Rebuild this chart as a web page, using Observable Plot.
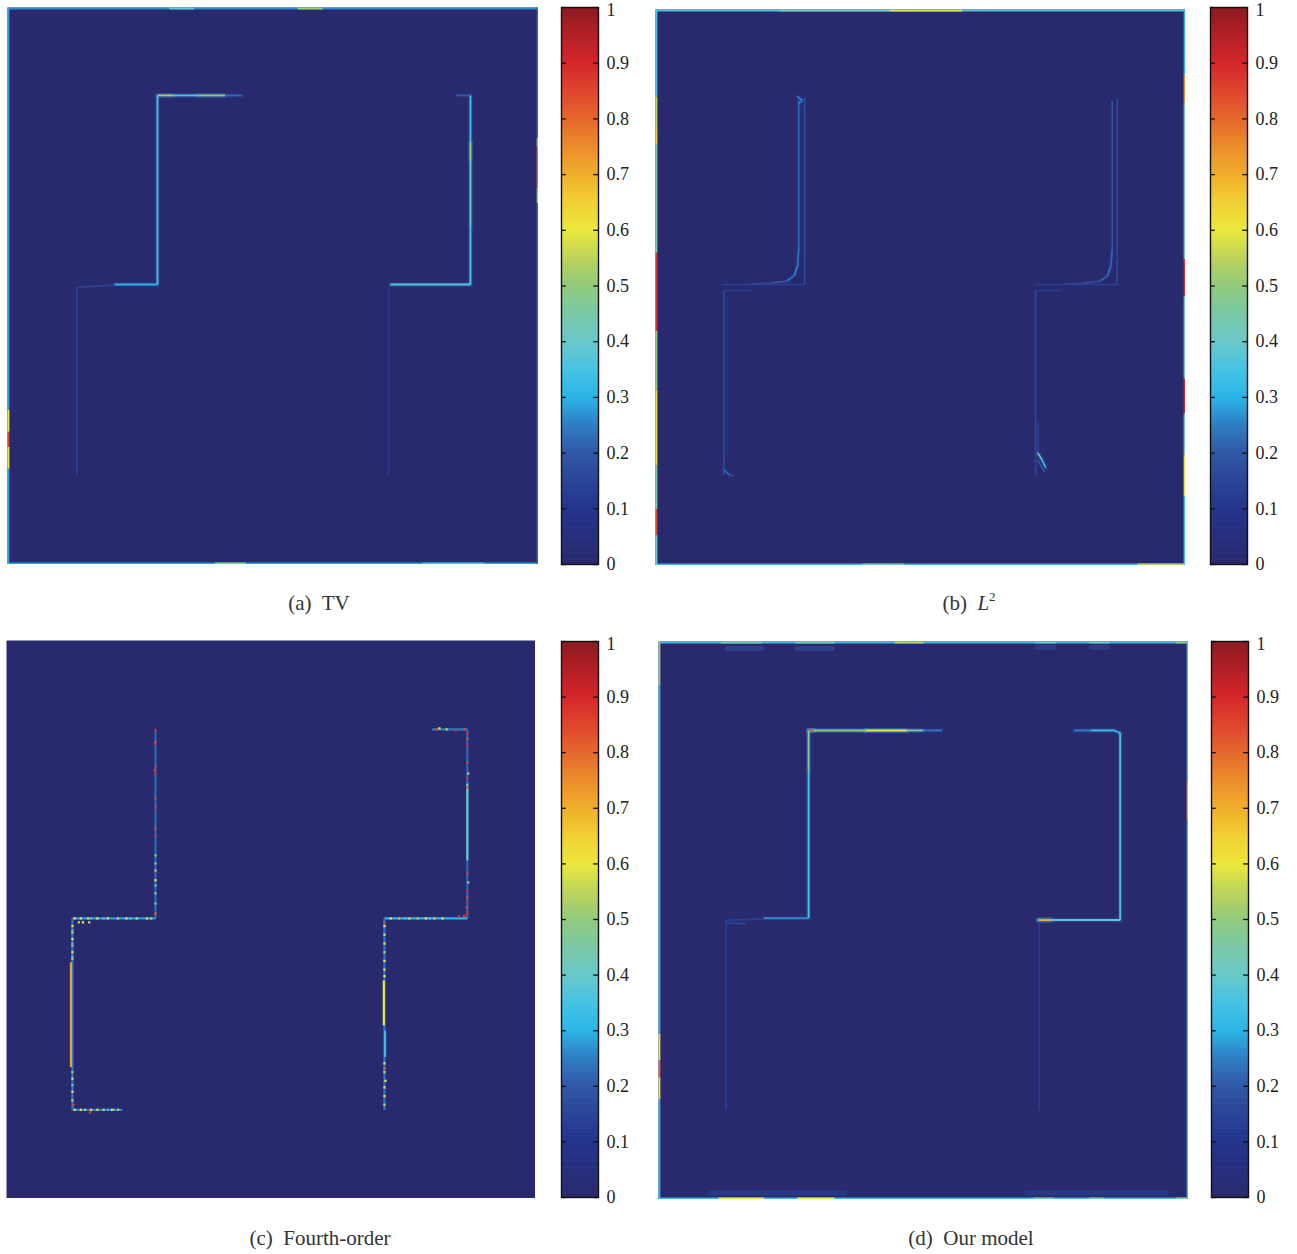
<!DOCTYPE html>
<html><head><meta charset="utf-8">
<script src="https://cdn.jsdelivr.net/npm/d3@7"></script>
<script src="https://cdn.jsdelivr.net/npm/@observablehq/plot@0.6"></script>
<style>
body{margin:0;background:#fff;width:1297px;height:1254px;position:relative;overflow:hidden;font-family:"Liberation Serif",serif;}
.abs{position:absolute;}
.cap{position:absolute;font-size:21px;line-height:22px;color:#333;transform:translateX(-50%);white-space:pre;}
.cap sup{font-size:13px;vertical-align:9px;line-height:0;}
</style></head><body>
<script>
// ---- colormap (jet-like, as in the colour bars) ----
const cmap = ["#292a6e","#272e7e","#23348c","#2a4598","#3158a6","#2f7ec4","#2bb5e7","#46c3e3","#6ac8ca","#7ac8a6","#92ca7c","#bdd45a","#ece83c","#f1cf33","#f0ae2b","#ec8c2c","#e5672c","#df452d","#d5262b","#b11f26","#8b1a1f"];
const barTicks = [0,0.1,0.2,0.3,0.4,0.5,0.6,0.7,0.8,0.9,1];
const captions = ["(a)  TV","(b)  <i>L</i><sup>2</sup>","(c)  Fourth-order","(d)  Our model"];

// ---- (a) TV : edge-error segments in image grid units (0..256), value 0..1 ----
const tvLines = [
 {x1:72.3,y1:40.4,x2:80,y2:40.4,v:0.52},{x1:80,y1:40.4,x2:92,y2:40.4,v:0.36},
 {x1:92,y1:40.4,x2:105,y2:40.4,v:0.5},{x1:105,y1:40.4,x2:113,y2:40.4,v:0.22},
 {x1:72.3,y1:40.4,x2:72.3,y2:127.3,v:0.34},
 {x1:51.6,y1:127.3,x2:72.3,y2:127.3,v:0.3},{x1:34,y1:128.5,x2:51.6,y2:127.6,v:0.14},
 {x1:216,y1:40.4,x2:223.2,y2:40.4,v:0.2},
 {x1:223.2,y1:40.4,x2:223.2,y2:62,v:0.34},{x1:223.2,y1:62,x2:223.2,y2:70,v:0.52},
 {x1:223.2,y1:70,x2:223.2,y2:100,v:0.42},{x1:223.2,y1:100,x2:223.2,y2:127.3,v:0.36},
 {x1:184.6,y1:127.3,x2:223.2,y2:127.3,v:0.38},
 {x1:33.4,y1:128.5,x2:33.4,y2:214.6,v:0.14},{x1:183.8,y1:128.5,x2:183.8,y2:214.6,v:0.12}
];
const tvEdges = [
 {x1:0,y1:0.5,x2:256,y2:0.5,v:0.26},{x1:78,y1:0.5,x2:90,y2:0.5,v:0.4},{x1:140,y1:0.5,x2:152,y2:0.5,v:0.52},
 {x1:0,y1:255.5,x2:256,y2:255.5,v:0.28},{x1:100,y1:255.5,x2:115,y2:255.5,v:0.48},{x1:200,y1:255.5,x2:230,y2:255.5,v:0.34},
 {x1:0.5,y1:0,x2:0.5,y2:185,v:0.28},{x1:0.5,y1:185,x2:0.5,y2:195,v:0.6},{x1:0.5,y1:195,x2:0.5,y2:202,v:0.85},
 {x1:0.5,y1:202,x2:0.5,y2:212,v:0.6},{x1:0.5,y1:212,x2:0.5,y2:256,v:0.28},
 {x1:255.5,y1:0,x2:255.5,y2:60,v:0.22},{x1:255.5,y1:60,x2:255.5,y2:64,v:0.5},{x1:255.5,y1:64,x2:255.5,y2:83,v:0.8},
 {x1:255.5,y1:83,x2:255.5,y2:90,v:0.5},{x1:255.5,y1:90,x2:255.5,y2:256,v:0.22}
];

// ---- (b) L2 ----
const l2Lines = [
 {x1:72,y1:40.5,x2:72,y2:126.6,v:0.17},
 {x1:69.2,y1:42,x2:69.2,y2:110,v:0.22},{x1:69.2,y1:110,x2:68.6,y2:118,v:0.24},{x1:68.6,y1:118,x2:67,y2:122.5,v:0.26},
 {x1:67,y1:122.5,x2:63.5,y2:125,v:0.24},{x1:63.5,y1:125,x2:56,y2:126,v:0.2},{x1:56,y1:126,x2:46,y2:126.3,v:0.16},
 {x1:32.4,y1:126.6,x2:72,y2:126.6,v:0.14},
 {x1:68.5,y1:40,x2:71,y2:42,v:0.26},{x1:71,y1:42,x2:69,y2:43.5,v:0.24},
 {x1:223,y1:41,x2:223,y2:127,v:0.16},
 {x1:220.6,y1:42,x2:220.6,y2:110,v:0.2},{x1:220.6,y1:110,x2:220,y2:118,v:0.22},{x1:220,y1:118,x2:218.4,y2:122.5,v:0.24},
 {x1:218.4,y1:122.5,x2:215,y2:125,v:0.22},{x1:215,y1:125,x2:207,y2:126,v:0.18},{x1:207,y1:126,x2:198,y2:126.3,v:0.15},
 {x1:184,y1:126.6,x2:223,y2:126.6,v:0.14},
 {x1:33,y1:129.4,x2:33,y2:214.5,v:0.17},{x1:34.6,y1:132,x2:34.6,y2:205,v:0.09},
 {x1:33,y1:129.4,x2:47,y2:129.4,v:0.13},{x1:33,y1:212,x2:36,y2:214.5,v:0.22},{x1:36,y1:214.5,x2:38,y2:214.8,v:0.16},
 {x1:183.6,y1:129.4,x2:183.6,y2:214.5,v:0.16},{x1:183.6,y1:129.4,x2:196,y2:129.4,v:0.12},
 {x1:184.8,y1:190,x2:184.8,y2:204,v:0.15},
 {x1:184.5,y1:204,x2:186.5,y2:207,v:0.42},{x1:186.5,y1:207,x2:188.5,y2:211,v:0.34},{x1:184.5,y1:207.5,x2:188,y2:213,v:0.2}
];
const l2Edges = [
 {x1:0,y1:0.5,x2:256,y2:0.5,v:0.36},{x1:60,y1:0.5,x2:113,y2:0.5,v:0.42},{x1:113,y1:0.5,x2:148,y2:0.5,v:0.58},
 {x1:0,y1:255.5,x2:256,y2:255.5,v:0.32},{x1:100,y1:255.5,x2:120,y2:255.5,v:0.45},{x1:233,y1:255.5,x2:256,y2:255.5,v:0.55},
 {x1:0.5,y1:0,x2:0.5,y2:40,v:0.35},{x1:0.5,y1:40,x2:0.5,y2:55,v:0.55},{x1:0.5,y1:55,x2:0.5,y2:62,v:0.65},
 {x1:0.5,y1:62,x2:0.5,y2:112,v:0.45},{x1:0.5,y1:112,x2:0.5,y2:148,v:0.88},{x1:0.5,y1:148,x2:0.5,y2:175,v:0.5},
 {x1:0.5,y1:175,x2:0.5,y2:210,v:0.62},{x1:0.5,y1:210,x2:0.5,y2:230,v:0.45},{x1:0.5,y1:230,x2:0.5,y2:242,v:0.85},
 {x1:0.5,y1:242,x2:0.5,y2:256,v:0.4},
 {x1:255.5,y1:0,x2:255.5,y2:30,v:0.3},{x1:255.5,y1:30,x2:255.5,y2:43,v:0.75},{x1:255.5,y1:43,x2:255.5,y2:115,v:0.45},
 {x1:255.5,y1:115,x2:255.5,y2:132,v:0.88},{x1:255.5,y1:132,x2:255.5,y2:170,v:0.45},{x1:255.5,y1:170,x2:255.5,y2:186,v:0.9},
 {x1:255.5,y1:186,x2:255.5,y2:205,v:0.45},{x1:255.5,y1:205,x2:255.5,y2:224,v:0.62},{x1:255.5,y1:224,x2:255.5,y2:256,v:0.35}
];

// ---- (c) Fourth-order ----
const fourthLines = [
 {x1:72.1,y1:40.8,x2:72.1,y2:127.5,v:0.22},{x1:31.9,y1:127.5,x2:72.1,y2:127.5,v:0.28},
 {x1:31.9,y1:127.5,x2:31.9,y2:215.3,v:0.24},{x1:31.9,y1:215.3,x2:56.1,y2:215.3,v:0.25},
 {x1:206,y1:40.8,x2:223,y2:40.8,v:0.25},{x1:223,y1:40.8,x2:223,y2:127.5,v:0.22},
 {x1:223,y1:65.6,x2:223,y2:100.9,v:0.42},{x1:182.9,y1:127.5,x2:223,y2:127.5,v:0.3},
 {x1:182.9,y1:127.5,x2:182.9,y2:215.3,v:0.24},{x1:31.2,y1:147.6,x2:31.2,y2:195.7,v:0.72},
 {x1:182.6,y1:156,x2:182.6,y2:176.6,v:0.6},{x1:183.2,y1:179,x2:183.2,y2:191,v:0.33}
];
const fourthDots = [
 {x:72.1,y:41.3,v:0.88},{x:72.1,y:46.6,v:0.85},{x:71.6,y:47.4,v:0.9},{x:72.1,y:58.2,v:0.88},{x:71.7,y:59.6,v:0.85},
 {x:72.1,y:61,v:0.9},{x:72.1,y:72.5,v:0.86},{x:72.1,y:76.6,v:0.88},{x:72.1,y:86.3,v:0.85},{x:72.1,y:89.4,v:0.88},
 {x:72.1,y:98.6,v:0.5},{x:72.1,y:102.3,v:0.45},{x:72.1,y:105.5,v:0.55},{x:72.1,y:110,v:0.6},{x:72.1,y:112.4,v:0.4},
 {x:72.1,y:116,v:0.5},{x:72.1,y:120.7,v:0.45},{x:72.1,y:125.3,v:0.8},
 {x:223,y:42.7,v:0.88},{x:223,y:45,v:0.85},{x:223,y:48.2,v:0.9},{x:223,y:56,v:0.86},{x:223.5,y:61,v:0.55},
 {x:223,y:63.3,v:0.88},{x:223,y:67.4,v:0.85},{x:223,y:106.9,v:0.86},{x:223.5,y:111,v:0.5},{x:223,y:114.7,v:0.88},
 {x:223,y:117.9,v:0.85},{x:223,y:120.2,v:0.9},{x:222.6,y:122.5,v:0.86},{x:223,y:124.8,v:0.88},
 {x:208,y:40.8,v:0.86},{x:209.5,y:40.3,v:0.6},{x:213,y:40.8,v:0.55},{x:217.4,y:41.3,v:0.88},{x:221.7,y:40.8,v:0.85},
 {x:33,y:127.5,v:0.6},{x:36,y:127.5,v:0.62},{x:39.5,y:127.5,v:0.58},{x:41,y:127.5,v:0.35},{x:44,y:127.5,v:0.6},
 {x:47,y:127.5,v:0.35},{x:49,y:127.5,v:0.62},{x:54,y:127.5,v:0.55},{x:58,y:127.5,v:0.6},{x:60,y:127.5,v:0.35},
 {x:63,y:127.5,v:0.58},{x:68,y:127.5,v:0.62},{x:70,y:127.5,v:0.55},
 {x:35,y:129.3,v:0.62},{x:37,y:129.3,v:0.6},{x:40,y:129.3,v:0.58},
 {x:31.9,y:131,v:0.6},{x:31.9,y:133,v:0.33},{x:31.9,y:134,v:0.55},{x:31.9,y:137,v:0.6},{x:31.9,y:139,v:0.33},
 {x:31.9,y:140,v:0.5},{x:31.9,y:143,v:0.6},{x:31.9,y:145,v:0.33},{x:31.9,y:146,v:0.55},
 {x:31.9,y:198,v:0.5},{x:31.9,y:201,v:0.6},{x:31.9,y:204,v:0.45},{x:31.9,y:207,v:0.6},{x:31.9,y:211,v:0.55},{x:32.4,y:213,v:0.85},
 {x:33,y:215.3,v:0.6},{x:36,y:215.3,v:0.62},{x:38,y:215.3,v:0.55},{x:40.5,y:216.5,v:0.85},{x:41,y:215.3,v:0.6},
 {x:44,y:215.3,v:0.6},{x:47,y:215.3,v:0.55},{x:49,y:215.3,v:0.33},{x:51,y:215.3,v:0.6},{x:52,y:215.3,v:0.33},{x:54,y:215.3,v:0.55},
 {x:186,y:127.5,v:0.62},{x:190,y:127.5,v:0.7},{x:193,y:127.5,v:0.35},{x:195,y:127.5,v:0.65},{x:199,y:127.5,v:0.7},
 {x:203,y:127.5,v:0.6},{x:205,y:127.5,v:0.35},{x:207,y:127.5,v:0.68},{x:211,y:127.5,v:0.62},
 {x:219,y:126.5,v:0.88},{x:221.5,y:126.5,v:0.85},{x:222.5,y:125.8,v:0.9},
 {x:182.9,y:129.5,v:0.85},{x:182.9,y:131,v:0.6},{x:182.9,y:135,v:0.58},{x:182.9,y:139,v:0.62},{x:182.9,y:143,v:0.55},
 {x:182.9,y:147,v:0.6},{x:182.9,y:151,v:0.58},{x:182.9,y:154,v:0.6},{x:182.9,y:194,v:0.6},{x:182.9,y:196.5,v:0.8},
 {x:182.9,y:198,v:0.55},{x:183.4,y:202,v:0.6},{x:182.9,y:205,v:0.58},{x:182.9,y:209,v:0.62},{x:182.9,y:213,v:0.55}
];

// ---- (d) Our model ----
const oursLines = [
 {x1:72.5,y1:40.8,x2:75,y2:40.8,v:0.8},{x1:75,y1:40.8,x2:100,y2:40.8,v:0.5},{x1:100,y1:40.8,x2:120,y2:40.8,v:0.6},
 {x1:120,y1:40.8,x2:128,y2:40.8,v:0.45},{x1:128,y1:40.8,x2:137,y2:40.8,v:0.24},
 {x1:72.5,y1:40.8,x2:72.5,y2:60,v:0.48},{x1:72.5,y1:60,x2:72.5,y2:127,v:0.36},
 {x1:50.7,y1:127,x2:72.5,y2:127,v:0.26},{x1:31.7,y1:128,x2:50.7,y2:127.2,v:0.13},
 {x1:200.7,y1:40.8,x2:209,y2:40.8,v:0.25},{x1:209,y1:40.8,x2:220,y2:40.8,v:0.34},{x1:220,y1:40.8,x2:223,y2:42,v:0.3},
 {x1:223,y1:42,x2:223,y2:127.8,v:0.36},
 {x1:183.5,y1:127.8,x2:190,y2:127.8,v:0.7},{x1:190,y1:127.8,x2:223,y2:127.8,v:0.38},
 {x1:32.6,y1:129,x2:32.6,y2:215,v:0.13},{x1:32.6,y1:129,x2:42,y2:129.5,v:0.14},
 {x1:184,y1:129,x2:184,y2:215,v:0.12}
];
const oursEdges = [
 {x1:0,y1:0.5,x2:256,y2:0.5,v:0.32},{x1:30,y1:0.5,x2:50,y2:0.5,v:0.45},{x1:66,y1:0.5,x2:85,y2:0.5,v:0.45},
 {x1:114,y1:0.5,x2:128,y2:0.5,v:0.55},{x1:182,y1:0.5,x2:192,y2:0.5,v:0.4},{x1:208,y1:0.5,x2:218,y2:0.5,v:0.4},
 {x1:250,y1:0.5,x2:256,y2:0.5,v:0.5},
 {x1:0,y1:255.5,x2:256,y2:255.5,v:0.32},{x1:29,y1:255.5,x2:51,y2:255.5,v:0.6},{x1:67,y1:255.5,x2:85,y2:255.5,v:0.6},
 {x1:181,y1:255.5,x2:191,y2:255.5,v:0.45},{x1:208,y1:255.5,x2:215,y2:255.5,v:0.45},{x1:250,y1:255.5,x2:256,y2:255.5,v:0.5},
 {x1:0.5,y1:0,x2:0.5,y2:20,v:0.5},{x1:0.5,y1:20,x2:0.5,y2:180,v:0.3},{x1:0.5,y1:180,x2:0.5,y2:192,v:0.6},
 {x1:0.5,y1:192,x2:0.5,y2:200,v:0.8},{x1:0.5,y1:200,x2:0.5,y2:210,v:0.6},{x1:0.5,y1:210,x2:0.5,y2:256,v:0.3},
 {x1:255.5,y1:0,x2:255.5,y2:64,v:0.33},{x1:255.5,y1:64,x2:255.5,y2:82,v:0.72},{x1:255.5,y1:82,x2:255.5,y2:256,v:0.32}
];
const oursGlows = [
 {x1:33,y1:3.2,x2:50,y2:3.2,v:0.2},{x1:67,y1:3.2,x2:84,y2:3.2,v:0.2},{x1:183,y1:2.8,x2:191,y2:2.8,v:0.18},{x1:209,y1:2.8,x2:217,y2:2.8,v:0.18},
 {x1:25,y1:253,x2:90,y2:253,v:0.16},{x1:178,y1:253,x2:245,y2:253,v:0.16}
];

// ---- drawing ----
const colorScale = {type:"linear", domain:[0,1], interpolate: d3.piecewise(d3.interpolateRgb, cmap), clamp:true};

function heat({lines=[], edges=[], dots=[], glows=[], halo=true, core=1.9}, w, h) {
  const xy = {x1:"x1", y1:"y1", x2:"x2", y2:"y2"};
  return Plot.plot({
    width:w, height:h, margin:0,
    x:{domain:[0,256], axis:null}, y:{domain:[0,256], axis:null, reverse:true},
    color: colorScale,
    marks:[
      Plot.frame({fill:cmap[0], stroke:"none"}),
      Plot.link(glows, {...xy, stroke:"v", strokeWidth:5, strokeOpacity:0.45, strokeLinecap:"round"}),
      halo ? Plot.link(lines.filter(d=>d.v>0.2), {...xy, stroke:d=>d.v*0.45, strokeWidth:5, strokeOpacity:0.5, strokeLinecap:"round"}) : null,
      Plot.link(lines, {...xy, stroke:"v", strokeWidth:core}),
      Plot.link(edges, {...xy, stroke:"v", strokeWidth:1.7}),
      Plot.dot(dots, {x:"x", y:"y", fill:"v", symbol:"square", r:1.25, stroke:"none"})
    ]
  });
}

function colorbar(h) {
  const step = 0.0025;
  const steps = d3.range(0, 1, step);
  const fmt = d => (d===0||d===1) ? String(d) : d.toFixed(1);
  return Plot.plot({
    width:92, height:h+24, marginTop:12, marginBottom:12, marginLeft:1, marginRight:54,
    x:{domain:[0,1], axis:null}, y:{domain:[0,1]},
    color: colorScale,
    style:{fontFamily:"'Liberation Serif', serif", fontSize:"18px", color:"#222", background:"transparent", overflow:"visible"},
    marks:[
      Plot.rect(steps, {x1:0, x2:1, y1:d=>d, y2:d=>Math.min(1,d+step*1.5), fill:d=>d+step/2}),
      Plot.ruleY(barTicks, {x1:0, x2:0.13, stroke:"#111", strokeWidth:1.3}),
      Plot.ruleY(barTicks, {x1:0.87, x2:1, stroke:"#111", strokeWidth:1.3}),
      Plot.frame({stroke:"#111", strokeWidth:1.4}),
      Plot.axisY(barTicks.filter(d=>d<1), {anchor:"right", tickSize:0, tickPadding:8, fontSize:18, tickFormat:fmt}),
      Plot.axisY(barTicks.filter(d=>d===1), {anchor:"right", tickSize:0, tickPadding:8, fontSize:18, dy:3, tickFormat:fmt})
    ]
  });
}

function place(el, left, top) {
  el.classList.add("abs");
  el.style.left = left + "px"; el.style.top = top + "px";
  document.body.appendChild(el);
}
function caption(html, cx, top) {
  const d = document.createElement("div");
  d.className = "cap"; d.innerHTML = html;
  d.style.left = cx + "px"; d.style.top = top + "px";
  document.body.appendChild(d);
}

place(heat({lines:tvLines, edges:tvEdges}, 531, 557), 7, 7);
place(colorbar(557), 560, -5);
caption(captions[0], 319, 592);

place(heat({lines:l2Lines, edges:l2Edges, core:1.6}, 530, 556), 655, 9);
place(colorbar(557), 1209, -5);
caption(captions[1], 969, 592);

place(heat({lines:fourthLines, dots:fourthDots, halo:false, core:2.2}, 529, 558), 6, 640);
place(colorbar(556), 560, 629);
caption(captions[2], 320, 1227);

place(heat({lines:oursLines, edges:oursEdges, glows:oursGlows}, 530, 558), 658, 641);
place(colorbar(556), 1210, 629);
caption(captions[3], 971, 1227);
</script>
</body></html>
